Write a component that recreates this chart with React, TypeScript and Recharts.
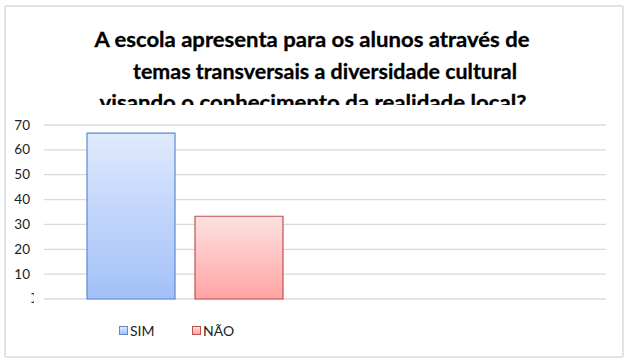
import React from "react";
import { BarChart, Bar, XAxis, YAxis, CartesianGrid } from "recharts";

const categories = ["", " "];
const simValues = [66.7, null];
const naoValues = [33.3, null];
const yTicks = [0, 10, 20, 30, 40, 50, 60, 70];
const titleLines = [
  "A escola apresenta para os alunos através de",
  "temas transversais a diversidade cultural",
  "visando o conhecimento da realidade local?",
];

const series = [
  { key: "SIM", label: "SIM", top: "#dfeafd", bottom: "#a2c0f8", border: "#5b8bd0" },
  { key: "NAO", label: "NÃO", top: "#fde2e1", bottom: "#ffa4a3", border: "#c0504d" },
];

const data = categories.map((name, i) => ({ name, SIM: simValues[i], NAO: naoValues[i] }));

const FONT = "Lato, 'Open Sans', sans-serif";

// title line geometry (center x, baseline y, width)
const titleLayout = [
  { cx: 312, y: 47, w: 435 },
  { cx: 325, y: 79, w: 384 },
  { cx: 313, y: 110, w: 427 },
];

const YTick = ({ x, y, payload }: any) => {
  if (payload.value === 0) {
    return (
      <g>
        <defs>
          <clipPath id="zeroClip">
            <rect x={31.5} y={y - 10} width={2.5} height={20} />
          </clipPath>
        </defs>
        <text x={36} y={y + 4} textAnchor="end" fontSize={13.5} fill="#222" fontFamily={FONT} clipPath="url(#zeroClip)">
          0
        </text>
      </g>
    );
  }
  return (
    <text x={x} y={y + 4.5} textAnchor="end" fontSize={13.5} fill="#222" fontFamily={FONT}>
      {payload.value}
    </text>
  );
};

export default function App() {
  return (
    <div style={{ position: "absolute", left: 0, top: 0, width: 629, height: 364, background: "#fff" }}>
      <svg width={629} height={364} style={{ position: "absolute", left: 0, top: 0 }}>
        <defs>
          <clipPath id="titleClip">
            <rect x={0} y={0} width={629} height={105} />
          </clipPath>
        </defs>
        <rect x={5} y={6} width={618} height={351} fill="#fff" stroke="#d9d9d9" strokeWidth={1.5} rx={2} />
        <g clipPath="url(#titleClip)">
          {titleLines.map((t, i) => (
            <text
              key={i}
              x={titleLayout[i].cx}
              y={titleLayout[i].y}
              textAnchor="middle"
              fontFamily={FONT}
              fontWeight={700}
              fontSize={21}
              fill="#000"
              stroke="#000"
              strokeWidth={0.3}
              textLength={titleLayout[i].w}
              lengthAdjust="spacingAndGlyphs"
            >
              {t}
            </text>
          ))}
        </g>
      </svg>
      <div style={{ position: "absolute", left: 0, top: 0 }}>
        <BarChart
          width={629}
          height={364}
          data={data}
          margin={{ top: 125, right: 23, bottom: 65, left: 0 }}
          barCategoryGap={43}
          barGap={20}
        >
          <defs>
            {series.map((s) => (
              <linearGradient key={s.key} id={`grad-${s.key}`} x1="0" y1="0" x2="0" y2="1">
                <stop offset="0%" stopColor={s.top} />
                <stop offset="100%" stopColor={s.bottom} />
              </linearGradient>
            ))}
          </defs>
          <CartesianGrid vertical={false} stroke="#d9d9d9" strokeWidth={1.3} />
          <XAxis dataKey="name" hide />
          <YAxis
            domain={[0, 70]}
            ticks={yTicks}
            width={44}
            axisLine={false}
            tickLine={false}
            tickSize={0}
            tickMargin={14}
            tick={<YTick />}
            interval={0}
          />
          {series.map((s) => (
            <Bar
              key={s.key}
              dataKey={s.key}
              name={s.label}
              fill={`url(#grad-${s.key})`}
              stroke={s.border}
              strokeWidth={1.2}
              isAnimationActive={false}
            />
          ))}
        </BarChart>
      </div>
      <div
        style={{
          position: "absolute",
          left: 119,
          top: 322,
          display: "flex",
          fontFamily: FONT,
          fontSize: 14,
          color: "#222",
        }}
      >
        {series.map((s, i) => (
          <div key={s.key} style={{ display: "flex", alignItems: "center", width: i === 0 ? 73 : "auto" }}>
            <span
              style={{
                display: "inline-block",
                width: 7,
                height: 7,
                border: `1px solid ${s.border}`,
                background: `linear-gradient(${s.top}, ${s.bottom})`,
                marginRight: 2,
              }}
            />
            <span>{s.label}</span>
          </div>
        ))}
      </div>
    </div>
  );
}
